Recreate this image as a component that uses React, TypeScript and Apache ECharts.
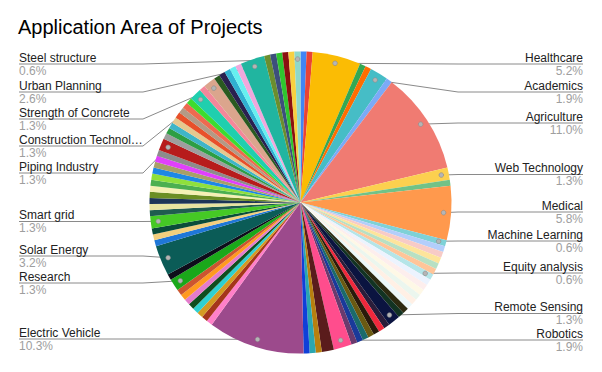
import { useEffect, useRef } from 'react';
import * as echarts from 'echarts';

// ---- data (clockwise from 12 o'clock) ----
const sliceNames: string[] = [
  '', '', 'Healthcare', '', '', 'Academics', '', 'Agriculture', 'Web Technology', '',
  'Medical', 'Machine Learning', '', '', '', '', '', 'Equity analysis',
  '', '', '', '', '', '',
  '', '', 'Remote Sensing', '', '', '', '', '', '', '', 'Robotics',
  '', '', '', '', 'Electric Vehicle',
  '', '', '', '', '', '', '', '', 'Research', '', 'Solar Energy', '', '', '', 'Smart grid',
  '', '', '', '', '', '', '', '', '', '', '', 'Piping Industry',
  '', '', '', '', '', '', '', '', 'Construction Technology', '', 'Strength of Concrete',
  '', '', '', '', '', 'Urban Planning', '', '', '', '', '', 'Steel structure',
];
const sliceValues: number[] = [
  1, 1, 8, 1, 1, 3, 1, 17, 2, 1,
  9, 1, 1, 1, 1, 1, 1, 1,
  1, 1, 1, 1, 1, 1,
  1, 1, 2, 1, 1, 1, 1, 1, 1, 1, 3,
  2, 1, 1, 1, 16,
  1, 1, 1, 1, 1, 1, 1, 1, 2, 1, 5, 1, 1, 1, 2,
  1, 1, 1, 1, 1, 1, 1, 1, 1, 1, 1, 2,
  1, 1, 1, 1, 1, 1, 1, 1, 2, 1, 2,
  1, 1, 1, 1, 1, 4, 1, 1, 1, 1, 1, 1,
];
const sliceColors: string[] = [
  '#4285f4', '#ea4335', '#fbbc04', '#34a853', '#ff6d01', '#46bdc6', '#7baaf7', '#f07b72', '#fcd04f', '#71c287',
  '#ff994d', '#7ed1d7', '#b3cefb', '#f7cbc7', '#fde49b', '#b8e0c3', '#ffc599', '#b5e5e8',
  '#ecf3fe', '#fdeeed', '#fef8e6', '#ebf6ee', '#fff0e5', '#ecf8f9',
  '#2d2a10', '#123322', '#0b1440', '#2b1d3a', '#f0283c', '#2a1a0a', '#6b5a12', '#1b6b6b', '#1a3a9a', '#6a3a6e', '#ff4d8d',
  '#5a1c1c', '#b8800f', '#2aa6b0', '#1040d8', '#9c4a8c',
  '#ff80c8', '#a5351a', '#d49a22', '#2fd0d0', '#0f4d1e', '#e47ccc', '#ff9a20', '#cc5530', '#1aa81a', '#0d0d1a', '#0b5c57', '#1f77d8', '#f2cf7d', '#0a4d3a', '#45c925',
  '#1f5c4f', '#e8e4a0', '#1d3557', '#6b8e23', '#f5f0b3', '#4caf50', '#8fe03c', '#1e88e5', '#a89f68', '#e040fb', '#8c8c8c', '#b71c1c',
  '#9e9e9e', '#2e9e44', '#3fb5c8', '#e6c88f', '#e8502a', '#b39a86', '#ee6a50', '#3ddc2f', '#20cfae', '#f4879a', '#dba58d',
  '#2a5a20', '#2a2050', '#30b0d0', '#66f0f0', '#f0a8dc', '#21b5a0', '#6b8e2e', '#3d4f7c', '#2fc52f', '#8b1010', '#f8d040', '#8fd8c8',
];

const TITLE = 'Application Area of Projects';

// ---- layout (not data) ----
const FONT = '"Liberation Sans", Arial, sans-serif';
const CX = 300.5;
const CY = 202.5;
const R = 151;
const DOT_R = R * 0.95;
const LEFT_END = 19;
const LEFT_BEND = 143;
const RIGHT_END = 583;
const RIGHT_BEND = 458;
// vertical position of each label's rule line
const LABEL_ROW_Y: Record<string, number> = {
  'Steel structure': 64,
  'Urban Planning': 92,
  'Strength of Concrete': 119,
  'Construction Technology': 146,
  'Piping Industry': 173,
  'Smart grid': 221.5,
  'Solar Energy': 256,
  'Research': 283,
  'Electric Vehicle': 339,
  'Healthcare': 64,
  'Academics': 92,
  'Agriculture': 123,
  'Web Technology': 174.5,
  'Medical': 212,
  'Machine Learning': 241,
  'Equity analysis': 273,
  'Remote Sensing': 313.5,
  'Robotics': 340,
};

const TOTAL = sliceValues.reduce((a, b) => a + b, 0);
const midAngles: number[] = [];
{
  let acc = 0;
  for (const v of sliceValues) {
    midAngles.push(((acc + v / 2) / TOTAL) * Math.PI * 2);
    acc += v;
  }
}

function dotPos(i: number): [number, number] {
  const a = midAngles[i];
  return [CX + DOT_R * Math.sin(a), CY - DOT_R * Math.cos(a)];
}

function shortName(name: string): string {
  const f: any = (echarts as any).format;
  if (f && typeof f.truncateText === 'function') {
    return f.truncateText(name, 127, `12px ${FONT}`, '…');
  }
  return name.length > 20 ? name.slice(0, 20) + '…' : name;
}

export default function App() {
  const ref = useRef<HTMLDivElement>(null);
  useEffect(() => {
    if (!ref.current) return;
    const chart = echarts.init(ref.current, undefined, { renderer: 'svg' });

    const dots = sliceNames
      .map((n, i) => ({ n, i }))
      .filter((d) => LABEL_ROW_Y[d.n] != null)
      .map((d) => {
        const [x, y] = dotPos(d.i);
        return {
          type: 'circle',
          shape: { cx: x, cy: y, r: 2.3 },
          style: { fill: '#b5b5b5', stroke: '#8a8a8a', lineWidth: 0.6 },
          z: 100,
          silent: true,
        };
      });

    chart.setOption({
      animation: false,
      backgroundColor: '#ffffff',
      title: {
        text: TITLE,
        left: 18,
        top: 17,
        padding: 0,
        textStyle: { fontSize: 20, fontWeight: 'normal', color: '#000', fontFamily: FONT, lineHeight: 20 },
      },
      graphic: dots,
      series: [
        {
          type: 'pie',
          center: [CX, CY],
          radius: R,
          startAngle: 90,
          clockwise: true,
          avoidLabelOverlap: false,
          minShowLabelAngle: 0,
          itemStyle: { borderWidth: 0 },
          emphasis: { disabled: true },
          label: {
            show: false,
            position: 'outside',
            formatter: (p: any) =>
              `{n|${shortName(p.name)}}\n{p|${((p.value / TOTAL) * 100).toFixed(1)}%}`,
            rich: {
              n: { fontSize: 12, color: '#222', lineHeight: 13, fontFamily: FONT },
              p: { fontSize: 12, color: '#9e9e9e', lineHeight: 13, fontFamily: FONT },
            },
          },
          labelLine: { show: false, lineStyle: { color: '#8a8a8a', width: 1 } },
          labelLayout: (params: any) => {
            const i = params.dataIndex;
            const ly = LABEL_ROW_Y[sliceNames[i]];
            if (ly == null) return {};
            const [px, py] = dotPos(i);
            const right = px > CX;
            const bend = right ? RIGHT_BEND : LEFT_BEND;
            const end = right ? RIGHT_END : LEFT_END;
            return {
              x: end,
              y: ly,
              align: right ? 'right' : 'left',
              verticalAlign: 'middle',
              labelLinePoints: [
                [px, py],
                [bend, ly],
                [end, ly],
              ],
            };
          },
          data: sliceValues.map((v, i) => {
            const labeled = LABEL_ROW_Y[sliceNames[i]] != null;
            return {
              value: v,
              name: sliceNames[i],
              itemStyle: { color: sliceColors[i] },
              label: { show: labeled },
              labelLine: { show: labeled },
            };
          }),
        },
      ],
    });
    return () => chart.dispose();
  }, []);
  return (
    <div
      ref={ref}
      style={{ position: 'fixed', left: 0, top: 0, width: 602, height: 372 }}
    />
  );
}
